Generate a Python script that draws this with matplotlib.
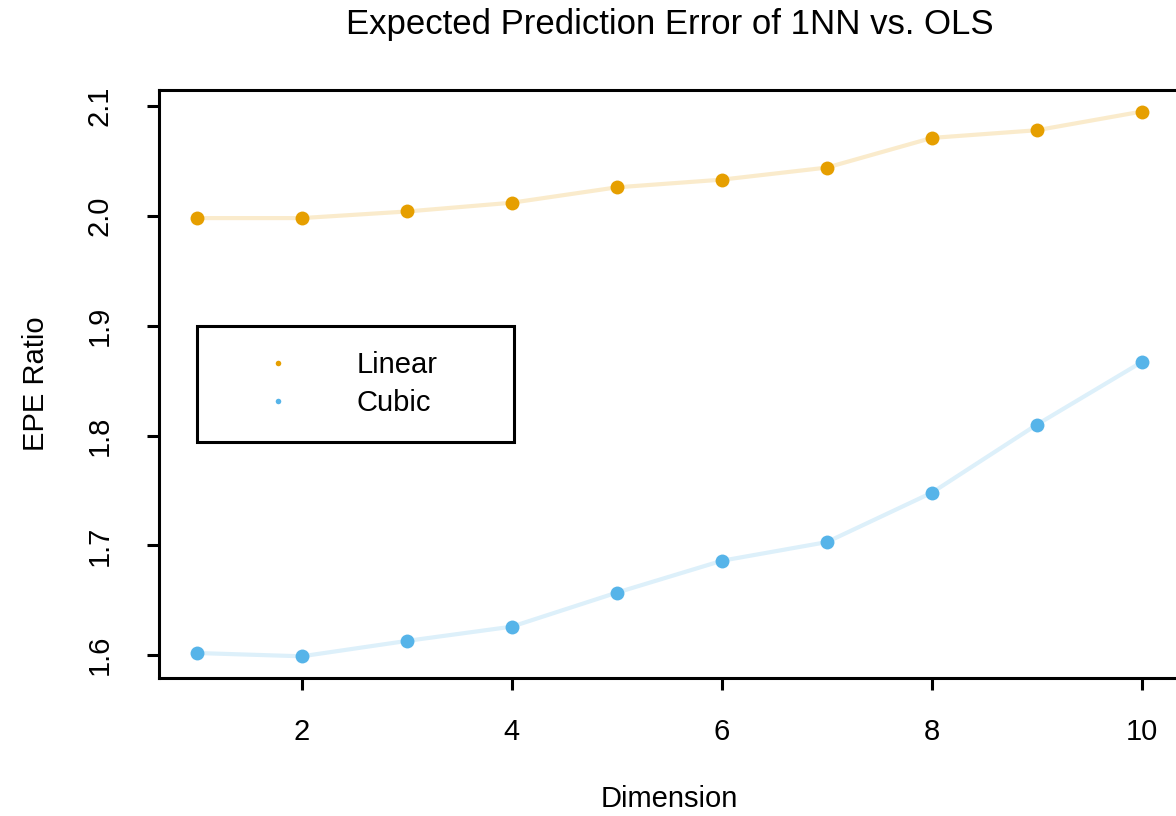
import numpy as np
import matplotlib
matplotlib.use("Agg")
import matplotlib.pyplot as plt
from matplotlib.lines import Line2D

plt.rcParams['font.family'] = ['Liberation Sans', 'DejaVu Sans']

# EPE ratio of 1NN vs. OLS per dimension
dimension = [1, 2, 3, 4, 5, 6, 7, 8, 9, 10]
linear_ratio = [1.998, 1.998, 2.004, 2.012, 2.026, 2.033, 2.044, 2.071, 2.078, 2.095]
cubic_ratio = [1.602, 1.599, 1.613, 1.626, 1.657, 1.686, 1.703, 1.748, 1.810, 1.867]
x_ticks = [2, 4, 6, 8, 10]
y_ticks = [1.6, 1.7, 1.8, 1.9, 2.0, 2.1]

orange = '#E69F00'
blue = '#56B4E9'

fig = plt.figure(figsize=(11.76, 8.16), dpi=100)
ax = fig.add_axes([0.1352, 0.169, 0.868, 0.721])

ax.plot(dimension, linear_ratio, color=orange, alpha=0.2, lw=3)
ax.plot(dimension, linear_ratio, 'o', color=orange, ms=10, mec='none')
ax.plot(dimension, cubic_ratio, color=blue, alpha=0.2, lw=3)
ax.plot(dimension, cubic_ratio, 'o', color=blue, ms=10, mec='none')

ax.margins(0.04)
ax.set_xticks(x_ticks)
ax.set_yticks(y_ticks)
ax.set_yticklabels([f'{v:.1f}' for v in y_ticks], rotation=90, va='center')

for sp in ax.spines.values():
    sp.set_linewidth(2.2)
ax.tick_params(length=8.6, width=2.2, labelsize=21)
ax.tick_params(axis='x', pad=20)
ax.tick_params(axis='y', pad=24)

ax.set_title('Expected Prediction Error of 1NN vs. OLS', fontsize=25, pad=40)
ax.set_xlabel('Dimension', fontsize=21, labelpad=28)
ax.set_ylabel('EPE Ratio', fontsize=21, labelpad=26)

handles = [Line2D([], [], ls='none', marker='o', ms=4, color=orange, mec='none'),
           Line2D([], [], ls='none', marker='o', ms=4, color=blue, mec='none')]
leg = ax.legend(handles, ['Linear', 'Cubic'], loc='upper left',
                bbox_to_anchor=(0.037, 0.398, 0.311, 0.2), mode='expand',
                borderaxespad=0, borderpad=0.85, handlelength=3.84,
                handletextpad=0.79, labelspacing=0.35, fontsize=21,
                fancybox=False, framealpha=1, edgecolor='black')
leg.get_frame().set_linewidth(2.2)

fig.savefig('out.png', dpi=100)
